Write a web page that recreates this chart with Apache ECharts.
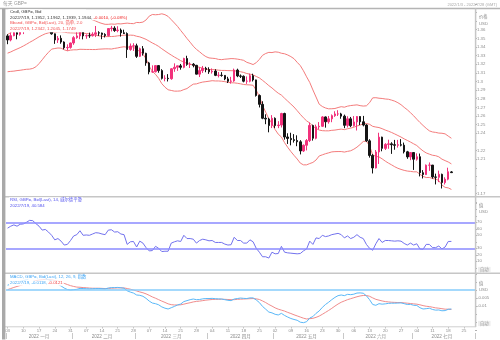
<!DOCTYPE html>
<html><head><meta charset="utf-8"><title>GBP=</title>
<script src="https://cdn.jsdelivr.net/npm/echarts@6/dist/echarts.min.js"></script>
<style>html,body{margin:0;padding:0;background:#fff;}#chart{width:500px;height:340px;}</style>
</head><body><div id="chart"></div>
<script>
// ---------- categories ----------
const firstDay = [2022, 0, 3], lastDay = [2022, 6, 28];
const monthNames = ['一月','二月','三月','四月','五月','六月','七月'];
// ---------- daily OHLC (GBP=, Bid) ----------
const openP = [
1.3528,1.3481,1.3531,1.3566,1.3547,1.3589,1.3596,1.3640,1.3713,1.3713,1.3677,1.3647,1.3610,1.3620,1.3595,1.3552,1.3481,1.3500,1.3457,1.3391,1.3395,
1.3446,1.3508,1.3528,1.3592,1.3528,1.3531,1.3530,1.3547,1.3564,1.3561,1.3545,1.3532,1.3613,1.3618,1.3590,1.3596,1.3564,1.3556,1.3370,1.3410,
1.3413,1.3291,1.3379,1.3326,1.3215,1.3111,1.3113,1.3184,1.3126,1.3036,1.3037,1.3032,1.3147,1.3165,1.3181,1.3164,1.3266,1.3198,1.3200,1.3187,1.3085,1.3126,1.3152,
1.3138,1.3112,1.3120,1.3071,1.3072,1.3070,1.3030,1.3002,1.3006,1.3132,1.3064,1.3060,1.3003,1.3003,1.3067,1.3018,1.2837,1.2735,1.2574,1.2565,1.2489,
1.2573,1.2489,1.2495,1.2629,1.2357,1.2340,1.2326,1.2316,1.2301,1.2195,1.2261,1.2315,1.2490,1.2342,1.2475,1.2481,1.2589,1.2533,1.2567,1.2604,1.2624,1.2624,
1.2598,1.2492,1.2567,1.2488,1.2531,1.2594,1.2533,1.2495,1.2312,1.2143,1.1998,1.2183,1.2355,1.2225,1.2271,1.2277,1.2267,1.2261,1.2267,1.2262,1.2185,1.2126,
1.2177,1.2099,1.2128,1.1943,1.1921,1.2030,1.2031,1.1894,1.1890,1.1924,1.1828,1.1868,1.1952];
const highP = [
1.3548,1.3566,1.3599,1.3572,1.3617,1.3601,1.3651,1.3715,1.3749,1.3719,1.3700,1.3658,1.3648,1.3642,1.3612,1.3556,1.3527,1.3534,1.3465,1.3430,1.3450,
1.3525,1.3576,1.3628,1.3608,1.3546,1.3566,1.3570,1.3643,1.3582,1.3566,1.3559,1.3618,1.3644,1.3640,1.3640,1.3614,1.3600,1.3569,1.3440,1.3443,
1.3438,1.3392,1.3410,1.3333,1.3227,1.3187,1.3190,1.3190,1.3142,1.3072,1.3085,1.3154,1.3210,1.3183,1.3203,1.3275,1.3298,1.3222,1.3213,1.3192,1.3166,1.3180,1.3170,
1.3164,1.3151,1.3142,1.3109,1.3108,1.3074,1.3054,1.3054,1.3149,1.3148,1.3081,1.3070,1.3058,1.3090,1.3090,1.3021,1.2850,1.2771,1.2620,1.2579,1.2610,
1.2584,1.2540,1.2637,1.2638,1.2400,1.2406,1.2390,1.2376,1.2320,1.2270,1.2333,1.2525,1.2500,1.2500,1.2529,1.2599,1.2595,1.2600,1.2618,1.2655,1.2667,1.2637,
1.2616,1.2597,1.2589,1.2599,1.2599,1.2598,1.2601,1.2505,1.2331,1.2159,1.2206,1.2406,1.2360,1.2285,1.2325,1.2296,1.2323,1.2323,1.2332,1.2292,1.2196,1.2178,
1.2178,1.2167,1.2165,1.1973,1.2038,1.2062,1.2033,1.1932,1.1967,1.1932,1.1890,1.2001,1.1962];
const lowP = [
1.3432,1.3465,1.3524,1.3489,1.3531,1.3549,1.3580,1.3620,1.3680,1.3662,1.3637,1.3592,1.3582,1.3585,1.3542,1.3436,1.3446,1.3437,1.3373,1.3358,1.3380,
1.3425,1.3495,1.3490,1.3488,1.3495,1.3505,1.3521,1.3515,1.3528,1.3490,1.3510,1.3520,1.3580,1.3575,1.3570,1.3520,1.3550,1.3273,1.3356,1.3354,
1.3273,1.3283,1.3300,1.3182,1.3083,1.3101,1.3104,1.3101,1.3023,1.3002,1.3000,1.3020,1.3112,1.3123,1.3137,1.3153,1.3182,1.3156,1.3164,1.3082,1.3051,1.3099,1.3107,
1.3088,1.3091,1.3062,1.3047,1.3055,1.3015,1.2982,1.2975,1.2996,1.3050,1.3040,1.2990,1.2972,1.2990,1.3000,1.2825,1.2699,1.2563,1.2505,1.2411,1.2460,
1.2460,1.2459,1.2467,1.2326,1.2276,1.2260,1.2292,1.2250,1.2155,1.2183,1.2201,1.2298,1.2315,1.2330,1.2445,1.2472,1.2465,1.2511,1.2528,1.2590,1.2600,1.2568,
1.2459,1.2467,1.2471,1.2478,1.2432,1.2495,1.2480,1.2300,1.2118,1.1934,1.1992,1.2044,1.2191,1.2206,1.2220,1.2161,1.2209,1.2234,1.2248,1.2166,1.2104,1.2088,
1.1975,1.2083,1.1900,1.1876,1.1917,1.1964,1.1874,1.1807,1.1834,1.1760,1.1806,1.1855,1.1939];
const closeP = [
1.3481,1.3531,1.3566,1.3547,1.3589,1.3596,1.3640,1.3713,1.3713,1.3677,1.3647,1.3610,1.3620,1.3595,1.3552,1.3481,1.3500,1.3457,1.3391,1.3395,1.3446,
1.3508,1.3528,1.3592,1.3528,1.3531,1.3530,1.3547,1.3564,1.3561,1.3545,1.3532,1.3613,1.3618,1.3590,1.3596,1.3564,1.3556,1.3370,1.3410,1.3413,
1.3291,1.3379,1.3326,1.3215,1.3111,1.3113,1.3184,1.3126,1.3036,1.3037,1.3032,1.3147,1.3165,1.3181,1.3164,1.3266,1.3198,1.3200,1.3187,1.3085,1.3126,1.3152,1.3138,
1.3112,1.3120,1.3071,1.3072,1.3070,1.3030,1.3002,1.3006,1.3132,1.3064,1.3060,1.3003,1.3003,1.3067,1.3018,1.2837,1.2735,1.2574,1.2565,1.2489,1.2573,
1.2489,1.2495,1.2629,1.2357,1.2340,1.2326,1.2316,1.2301,1.2195,1.2261,1.2315,1.2490,1.2342,1.2475,1.2481,1.2589,1.2533,1.2567,1.2604,1.2624,1.2624,1.2598,
1.2492,1.2567,1.2488,1.2531,1.2594,1.2533,1.2495,1.2312,1.2143,1.1998,1.2183,1.2355,1.2225,1.2271,1.2277,1.2267,1.2261,1.2267,1.2262,1.2185,1.2126,1.2177,
1.2099,1.2128,1.1943,1.1921,1.2030,1.2031,1.1894,1.1890,1.1924,1.1828,1.1868,1.1954,1.1944];
// ---------- Bollinger (20, 2.0) as read ----------
const bbUpper = [
1.3543,1.3567,1.3600,1.3626,1.3654,1.3686,1.3721,1.3763,1.3795,1.3820,1.3827,1.3821,1.3808,1.3788,1.3765,1.3762,1.3764,1.3766,1.3777,1.3775,1.3763,
1.3757,1.3753,1.3753,1.3748,1.3741,1.3731,1.3714,1.3700,1.3684,1.3672,1.3662,1.3662,1.3666,1.3663,1.3669,1.3667,1.3672,1.3676,1.3672,1.3670,
1.3684,1.3682,1.3688,1.3713,1.3757,1.3776,1.3773,1.3776,1.3784,1.3774,1.3754,1.3716,1.3678,1.3638,1.3591,1.3546,1.3498,1.3455,1.3409,1.3372,1.3344,1.3313,1.3288,
1.3273,1.3269,1.3266,1.3256,1.3253,1.3258,1.3261,1.3265,1.3264,1.3259,1.3253,1.3245,1.3222,1.3210,1.3196,1.3218,1.3256,1.3303,1.3324,1.3337,1.3335,
1.3343,1.3339,1.3327,1.3321,1.3307,1.3288,1.3264,1.3222,1.3184,1.3124,1.3054,1.2989,1.2902,1.2820,1.2737,1.2710,1.2693,1.2683,1.2684,1.2687,1.2698,1.2708,
1.2702,1.2714,1.2721,1.2725,1.2729,1.2720,1.2715,1.2718,1.2754,1.2810,1.2812,1.2806,1.2803,1.2797,1.2794,1.2784,1.2772,1.2754,1.2731,1.2700,1.2672,1.2638,
1.2603,1.2563,1.2525,1.2490,1.2457,1.2428,1.2415,1.2410,1.2402,1.2400,1.2393,1.2367,1.2342];
const bbMid = [
1.3328,1.3342,1.3360,1.3376,1.3392,1.3411,1.3431,1.3453,1.3473,1.3495,1.3517,1.3536,1.3553,1.3563,1.3570,1.3572,1.3576,1.3576,1.3572,1.3565,1.3563,
1.3562,1.3560,1.3563,1.3560,1.3556,1.3551,1.3542,1.3535,1.3529,1.3524,1.3520,1.3520,1.3521,1.3523,1.3529,1.3532,1.3537,1.3536,1.3537,1.3535,
1.3524,1.3517,1.3503,1.3488,1.3467,1.3446,1.3428,1.3406,1.3379,1.3354,1.3329,1.3306,1.3283,1.3263,1.3241,1.3226,1.3208,1.3200,1.3189,1.3172,1.3164,1.3153,1.3143,
1.3138,1.3139,1.3136,1.3131,1.3128,1.3128,1.3126,1.3125,1.3124,1.3119,1.3113,1.3105,1.3092,1.3085,1.3076,1.3058,1.3041,1.3013,1.2984,1.2952,1.2925,
1.2893,1.2864,1.2842,1.2806,1.2772,1.2738,1.2704,1.2662,1.2619,1.2579,1.2544,1.2519,1.2482,1.2455,1.2437,1.2430,1.2428,1.2428,1.2434,1.2437,1.2443,1.2448,
1.2442,1.2452,1.2459,1.2470,1.2484,1.2495,1.2510,1.2513,1.2504,1.2480,1.2472,1.2466,1.2453,1.2437,1.2424,1.2409,1.2392,1.2374,1.2356,1.2335,1.2317,1.2298,
1.2278,1.2258,1.2225,1.2195,1.2172,1.2158,1.2145,1.2140,1.2127,1.2100,1.2083,1.2067,1.2045];
const bbLower = [
1.3113,1.3117,1.3120,1.3126,1.3130,1.3136,1.3141,1.3143,1.3151,1.3170,1.3207,1.3251,1.3298,1.3338,1.3375,1.3382,1.3388,1.3386,1.3367,1.3355,1.3363,
1.3367,1.3367,1.3373,1.3372,1.3371,1.3371,1.3370,1.3370,1.3374,1.3376,1.3378,1.3378,1.3376,1.3383,1.3389,1.3397,1.3402,1.3396,1.3402,1.3400,
1.3364,1.3352,1.3318,1.3263,1.3177,1.3116,1.3083,1.3036,1.2974,1.2934,1.2904,1.2896,1.2888,1.2888,1.2891,1.2906,1.2918,1.2945,1.2969,1.2972,1.2984,1.2993,1.2998,
1.3003,1.3009,1.3006,1.3006,1.3003,1.2998,1.2991,1.2985,1.2984,1.2979,1.2973,1.2965,1.2962,1.2960,1.2956,1.2898,1.2826,1.2723,1.2644,1.2567,1.2515,
1.2443,1.2389,1.2357,1.2291,1.2237,1.2188,1.2144,1.2102,1.2054,1.2034,1.2034,1.2049,1.2062,1.2090,1.2137,1.2150,1.2163,1.2173,1.2184,1.2187,1.2188,1.2188,
1.2182,1.2190,1.2197,1.2215,1.2239,1.2270,1.2305,1.2308,1.2254,1.2150,1.2132,1.2126,1.2103,1.2077,1.2054,1.2034,1.2012,1.1994,1.1981,1.1970,1.1962,1.1958,
1.1953,1.1953,1.1925,1.1900,1.1887,1.1888,1.1875,1.1870,1.1852,1.1800,1.1773,1.1767,1.1749];
// ---------- RSI (14, Wilder) as read ----------
const rsi = [
61,64,66,64,67,67.5,70,73,72.5,68,64,58,59,55,50,43,45,41,35,36,42,
49,51,57,50,50.5,50,52,54,53.5,52,51,58,58.5,55,55.5,52,51,36,40,40.5,
32,41,38,31,26,26.5,33,30,25,25.5,25.5,38,40,41.5,40.5,50,45,45,44,38,42,44,43,
41.5,42,39,39,39,36.5,35,35.5,47,42,42,38,38,43,40,30,24,17,17,15,24,
21.5,22,33,24,23,22.5,22,21.5,22,26,29,41,36,46,45,50,48,49,51,52,53,51,
46,49,45,47,51,47,45,36,30,27,37,45,39,42,42,41.5,41,41.5,41,37.5,35,38,
35,37,29,28.5,36,36,31,31,33.5,29,32,40.5,40.584];
// ---------- MACD (12, 26, 9) as read ----------
const macd = [
0.0030,0.0036,0.0043,0.0047,0.0053,0.0058,0.0064,0.0073,0.0079,0.0080,0.0078,0.0073,0.0070,0.0064,0.0056,0.0043,0.0035,0.0025,0.0012,0.0003,0.0000,
0.0002,0.0004,0.0010,0.0009,0.0008,0.0007,0.0008,0.0009,0.0009,0.0008,0.0007,0.0012,0.0015,0.0015,0.0016,0.0014,0.0011,-0.0005,-0.0013,-0.0019,
-0.0031,-0.0033,-0.0039,-0.0052,-0.0069,-0.0081,-0.0085,-0.0092,-0.0105,-0.0113,-0.0118,-0.0110,-0.0102,-0.0093,-0.0087,-0.0072,-0.0066,-0.0060,-0.0056,-0.0060,-0.0059,-0.0055,-0.0053,
-0.0053,-0.0052,-0.0054,-0.0055,-0.0056,-0.0060,-0.0064,-0.0066,-0.0056,-0.0053,-0.0050,-0.0052,-0.0053,-0.0049,-0.0049,-0.0062,-0.0078,-0.0102,-0.0119,-0.0137,-0.0142,
-0.0151,-0.0155,-0.0145,-0.0158,-0.0168,-0.0177,-0.0183,-0.0188,-0.0200,-0.0203,-0.0197,-0.0174,-0.0165,-0.0145,-0.0130,-0.0108,-0.0090,-0.0076,-0.0060,-0.0046,-0.0035,-0.0031,
-0.0035,-0.0027,-0.0029,-0.0026,-0.0019,-0.0018,-0.0020,-0.0036,-0.0060,-0.0090,-0.0095,-0.0085,-0.0088,-0.0086,-0.0083,-0.0082,-0.0082,-0.0081,-0.0080,-0.0085,-0.0090,-0.0089,
-0.0095,-0.0096,-0.0110,-0.0118,-0.0116,-0.0113,-0.0121,-0.0125,-0.0124,-0.0129,-0.0128,-0.0120,-0.0118];
const signal = [
0.0002,0.0009,0.0016,0.0022,0.0028,0.0034,0.0040,0.0046,0.0053,0.0058,0.0062,0.0064,0.0066,0.0065,0.0064,0.0059,0.0055,0.0049,0.0041,0.0034,0.0027,
0.0022,0.0018,0.0017,0.0015,0.0014,0.0012,0.0011,0.0011,0.0011,0.0010,0.0009,0.0010,0.0011,0.0012,0.0013,0.0013,0.0013,0.0009,0.0005,0.0000,
-0.0006,-0.0012,-0.0017,-0.0024,-0.0033,-0.0043,-0.0051,-0.0060,-0.0069,-0.0077,-0.0086,-0.0091,-0.0093,-0.0093,-0.0092,-0.0088,-0.0083,-0.0079,-0.0074,-0.0071,-0.0069,-0.0066,-0.0063,
-0.0061,-0.0059,-0.0058,-0.0058,-0.0057,-0.0058,-0.0059,-0.0060,-0.0060,-0.0058,-0.0057,-0.0056,-0.0055,-0.0054,-0.0053,-0.0055,-0.0059,-0.0068,-0.0078,-0.0090,-0.0100,
-0.0111,-0.0119,-0.0125,-0.0131,-0.0139,-0.0146,-0.0154,-0.0161,-0.0168,-0.0175,-0.0180,-0.0178,-0.0176,-0.0170,-0.0162,-0.0151,-0.0139,-0.0127,-0.0114,-0.0100,-0.0087,-0.0076,
-0.0068,-0.0060,-0.0054,-0.0048,-0.0042,-0.0037,-0.0034,-0.0034,-0.0039,-0.0049,-0.0058,-0.0063,-0.0068,-0.0072,-0.0074,-0.0076,-0.0077,-0.0078,-0.0078,-0.0080,-0.0082,-0.0084,
-0.0086,-0.0088,-0.0092,-0.0097,-0.0101,-0.0103,-0.0107,-0.0111,-0.0113,-0.0116,-0.0119,-0.0119,-0.0121];
// ---------- tick labels ----------
const priceTickLabels = ['1.36','1.35','1.34','1.33','1.32','1.31','1.3','1.29','1.28','1.27','1.26','1.25','1.24','1.22','1.21','1.17'];
const rsiTickLabels = ['70','60','50','30','20','10'];
const macdTickLabels = ['-0.005','-0.01'];

// ---------- build ----------
const dates = [];
for (let t = Date.UTC(...firstDay); t <= Date.UTC(...lastDay); t += 86400000) {
  const d = new Date(t), w = d.getUTCDay();
  if (w > 0 && w < 6) dates.push(d.toISOString().slice(0, 10));
}
const monthStart = new Set(), monthMid = new Set();
let ms = 0;
for (let i = 1; i <= dates.length; i++) {
  if (i === dates.length || dates[i].slice(5, 7) !== dates[i - 1].slice(5, 7)) {
    monthStart.add(ms); monthMid.add(Math.floor((ms + i - 1) / 2)); ms = i;
  }
}
const isMonday = v => new Date(v + 'T00:00:00Z').getUTCDay() === 1;
const N = closeP.length, L = N - 1;
const candle = closeP.map((c, i) => [openP[i], c, lowP[i], highP[i]]);
const FONT = '"Liberation Sans","Noto Sans CJK SC",sans-serif';
const FS = 4.3;
const fmtNum = v => String(+(+v).toFixed(4));
const box = (bg, fg, fmt, off) => ({show: true, position: 'end', distance: 1.5, formatter: p => fmt(p.value),
  backgroundColor: bg, color: fg, fontSize: FS, fontFamily: FONT, padding: [1, 6, 0.5, 2], offset: off || [0, 0]});
const hiddenLine = {opacity: 0};
const lbl = (arr) => ({fontSize: FS, color: '#8c8c8c', fontFamily: FONT, margin: 2,
  formatter: v => { const s = fmtNum(v); return arr.includes(s) ? s : ''; }});
const yTick = {show: true, length: 2, lineStyle: {color: '#b0b0b0'}};
const hiddenX = (g) => ({type: 'category', gridIndex: g, data: dates, boundaryGap: true, show: false});
const bandLine = (data, mlVal) => ({type: 'line', xAxisIndex: 0, yAxisIndex: 0, data, symbol: 'none', silent: true,
  lineStyle: {color: '#f47c7c', width: 1}, z: 1,
  markLine: {silent: true, symbol: 'none', animation: false, lineStyle: hiddenLine,
    data: [{yAxis: mlVal, label: box('#ff2121', '#2a0000', v => (+v).toFixed(4))}]}});

const T = (x, y, text, fill, extra) => ({type: 'text', x, y, z: 100,
  style: Object.assign({text, fill, font: FS + 'px ' + FONT, verticalAlign: 'middle'}, extra || {})});
const legendLine = (x, y, rich, text) => ({type: 'text', x, y, z: 100,
  style: {text, rich, font: FS + 'px ' + FONT, verticalAlign: 'middle', backgroundColor: '#fff', padding: [0.5, 1]}});
const R = (c) => ({fill: c, fontSize: FS, fontFamily: FONT});
const chg = closeP[L] - closeP[L - 1];
const dstr = dates[L].replace(/-0?/g, '/');

const option = {
  animation: false,
  backgroundColor: '#fff',
  grid: [
    {left: 6, right: 25, top: 3.8, height: 198.5},
    {left: 6, right: 25, top: 202.8, height: 65},
    {left: 6, right: 25, top: 273.9, height: 56.35},
    {left: 6, right: 25, top: 326.5, height: 0.5}
  ],
  xAxis: [
    hiddenX(0), hiddenX(1), hiddenX(2),
    {type: 'category', gridIndex: 3, data: dates, boundaryGap: true, position: 'bottom',
      axisLine: {show: false},
      axisTick: {show: true, alignWithLabel: true, length: 1.5, interval: (i, v) => isMonday(v), lineStyle: {color: '#c0c0c0'}},
      axisLabel: {interval: (i, v) => isMonday(v), formatter: v => v.slice(8, 10), fontSize: FS, color: '#8c8c8c', fontFamily: FONT, margin: 1.5}},
    {type: 'category', gridIndex: 3, data: dates, boundaryGap: true, position: 'bottom', offset: 6,
      axisLine: {show: false},
      axisTick: {show: true, length: 6, interval: (i) => monthStart.has(i), lineStyle: {color: '#c8c8c8'}},
      axisLabel: {interval: (i) => monthMid.has(i), formatter: v => '2022 ' + monthNames[+v.slice(5, 7) - 1],
        fontSize: 4.6, color: '#8c8c8c', fontFamily: FONT, margin: 1.5}}
  ],
  yAxis: [
    {gridIndex: 0, position: 'right', min: 1.16, max: 1.39, interval: 0.01, splitLine: {show: false},
      axisLine: {show: false}, axisTick: yTick, axisLabel: lbl(priceTickLabels)},
    {gridIndex: 1, position: 'right', min: 0, max: 100, interval: 10, splitLine: {show: false},
      axisLine: {show: false}, axisTick: yTick, axisLabel: lbl(rsiTickLabels)},
    {gridIndex: 2, position: 'right', min: -0.025, max: 0.01, interval: 0.005, splitLine: {show: false},
      axisLine: {show: false}, axisTick: yTick, axisLabel: lbl(macdTickLabels)},
    {gridIndex: 3, show: false}
  ],
  series: [
    bandLine(bbUpper, bbUpper[L]),
    bandLine(bbMid, bbMid[L]),
    bandLine(bbLower, bbLower[L]),
    {type: 'candlestick', xAxisIndex: 0, yAxisIndex: 0, data: candle, barWidth: 2, z: 3,
      itemStyle: {color: '#f2327c', color0: '#141414', borderColor: '#f2327c', borderColor0: '#141414', borderWidth: 1},
      markLine: {silent: true, symbol: 'none', animation: false, lineStyle: hiddenLine,
        data: [{yAxis: closeP[L], label: box('#111', '#fff', v => (+v).toFixed(4))}]}},
    {type: 'line', xAxisIndex: 1, yAxisIndex: 1, data: rsi, symbol: 'none', silent: true,
      lineStyle: {color: '#7272ee', width: 1},
      markLine: {silent: true, symbol: 'none', animation: false,
        data: [
          {yAxis: 70, lineStyle: {color: '#8a8aff', width: 1.5, type: 'solid'}, label: {show: false}},
          {yAxis: 30, lineStyle: {color: '#8a8aff', width: 1.5, type: 'solid'}, label: {show: false}},
          {yAxis: rsi[L], lineStyle: hiddenLine, label: box('#1a1ae6', '#000', v => (+v).toFixed(3))}
        ]}},
    {type: 'line', xAxisIndex: 2, yAxisIndex: 2, data: macd, symbol: 'none', silent: true, z: 3,
      lineStyle: {color: '#5ab8f8', width: 1},
      markLine: {silent: true, symbol: 'none', animation: false,
        data: [
          {yAxis: 0, lineStyle: {color: '#86cdfb', width: 1.5, type: 'solid'}, label: {show: false}},
          {yAxis: macd[L], lineStyle: hiddenLine, label: box('#2b95f0', '#000', v => (+v).toFixed(4))}
        ]}},
    {type: 'line', xAxisIndex: 2, yAxisIndex: 2, data: signal, symbol: 'none', silent: true, z: 2,
      lineStyle: {color: '#f08c8c', width: 1},
      markLine: {silent: true, symbol: 'none', animation: false, lineStyle: hiddenLine,
        data: [{yAxis: signal[L], label: box('#ff2525', '#000', v => (+v).toFixed(4), [0, 4.4])}]}}
  ],
  graphic: [
    // frames
    {type: 'line', z: 50, shape: {x1: 0, y1: 8.6, x2: 500, y2: 8.6}, style: {stroke: '#b4b4b4', lineWidth: 1.5}},
    {type: 'line', z: 50, shape: {x1: 5, y1: 196.8, x2: 500, y2: 196.8}, style: {stroke: '#c6c6c6', lineWidth: 1.5}},
    {type: 'line', z: 50, shape: {x1: 5, y1: 273.3, x2: 500, y2: 273.3}, style: {stroke: '#c6c6c6', lineWidth: 1.5}},
    {type: 'line', z: 50, shape: {x1: 475.6, y1: 8.6, x2: 475.6, y2: 327}, style: {stroke: '#c6c6c6', lineWidth: 1.5}},
    {type: 'line', z: 50, shape: {x1: 5, y1: 326.8, x2: 476, y2: 326.8}, style: {stroke: '#cfcfcf', lineWidth: 1}},
    {type: 'rect', z: 50, shape: {x: 2, y: 8.6, width: 3.4, height: 331}, style: {fill: '#a9a9a9'}},
    // legend backdrop
    {type: 'rect', z: 90, shape: {x: 8, y: 9.6, width: 78, height: 22.6}, style: {fill: '#ffffff'}},
    // titles
    T(3, 4, '每天 GBP=', '#9a9a9a', {font: '4.8px ' + FONT}),
    T(497, 4.5, '2022/1/3 - 2022/7/28 (GMT)', '#aaaaaa', {align: 'right', font: '4px ' + FONT}),
    // axis headers
    T(479, 17, '价格', '#8c8c8c'), T(479, 23.5, 'USD', '#8c8c8c'),
    T(479, 206, '值', '#8c8c8c'), T(479, 212.3, 'USD', '#8c8c8c'),
    T(479, 283.5, '值', '#8c8c8c'), T(479, 290, 'USD', '#8c8c8c'),
    T(478, 269.5, '自动', '#9a9a9a', {backgroundColor: '#eeeeee', padding: [0.5, 2]}),
    T(478, 323.5, '自动', '#9a9a9a', {backgroundColor: '#eeeeee', padding: [0.5, 2]}),
    // legends
    legendLine(9, 12, {a: R('#333333')}, '{a|Cndl, GBP=, Bid}'),
    legendLine(9, 17.6, {a: R('#333333'), b: R('#f02020')},
      '{a|' + dstr + ', ' + [openP[L], highP[L], lowP[L], closeP[L]].map(v => v.toFixed(4)).join(', ') + ', }{b|' +
      chg.toFixed(4) + ', (' + (chg / closeP[L - 1] * 100).toFixed(2) + '%)}'),
    legendLine(9, 23.3, {a: R('#f25050')}, '{a|Bband, GBP=, Bid(Last), 20, 简单, 2.0}'),
    legendLine(9, 29, {a: R('#f25050')}, '{a|' + dstr + ', ' + [bbUpper[L], bbMid[L], bbLower[L]].map(v => v.toFixed(4)).join(', ') + '}'),
    legendLine(9, 200, {a: R('#5050ee')}, '{a|RSI, GBP=, Bid(Last), 14, 威尔德平滑}'),
    legendLine(9, 206, {a: R('#5050ee')}, '{a|' + dstr + ', ' + rsi[L].toFixed(3) + '}'),
    legendLine(9, 277, {a: R('#3aa3f5')}, '{a|MACD, GBP=, Bid(Last), 12, 26, 9, 指数}'),
    legendLine(9, 283, {a: R('#3aa3f5'), b: R('#f04040')}, '{a|' + dstr + ', ' + macd[L].toFixed(4) + ', }{b|' + signal[L].toFixed(4) + '}')
  ]
};
const chart = echarts.init(document.getElementById('chart'), null, {renderer: 'canvas'});
chart.setOption(option);
</script></body></html>
